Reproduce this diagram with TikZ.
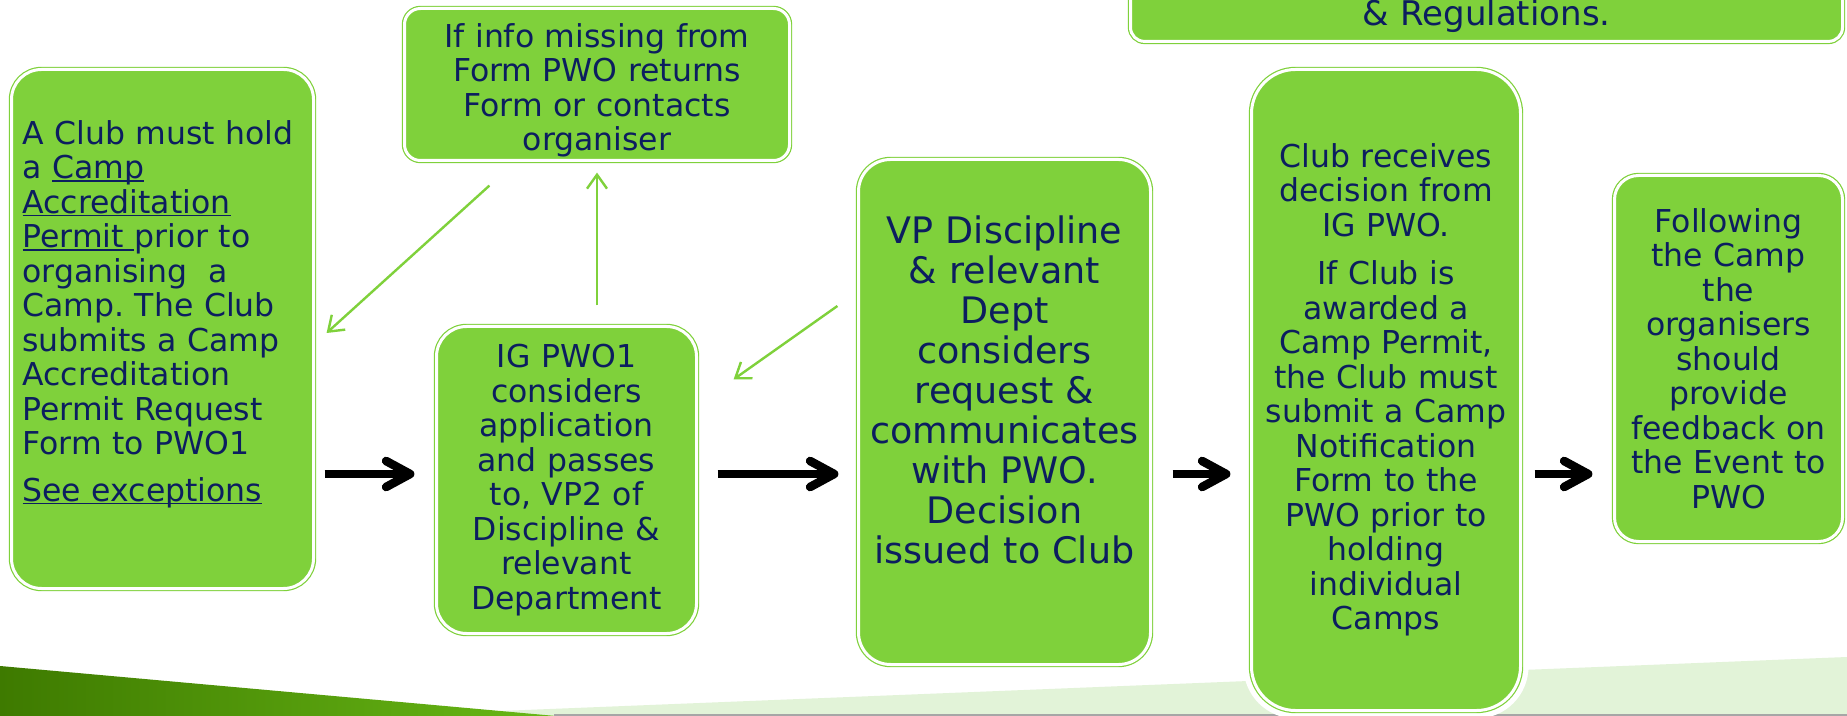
\documentclass[tikz,border=0pt]{standalone}
\usepackage{fontspec}
\setmainfont{DejaVu Sans}
\usetikzlibrary{arrows.meta}
\definecolor{boxgreen}{RGB}{127,209,59}
\definecolor{navytext}{RGB}{12,30,95}
\definecolor{bandgreen}{RGB}{226,243,216}
\definecolor{darkleaf}{RGB}{62,122,0}
\definecolor{brightleaf}{RGB}{104,184,22}
\newcommand\linkword[1]{\leavevmode\setbox0\hbox{#1}\rlap{\rule[-1.6pt]{\wd0}{0.9pt}}\box0}
\frenchspacing

\begin{document}
\begin{tikzpicture}[x=0.5pt, y=-0.5pt,
                    every node/.style={font=\fontsize{15.75}{17.25}\selectfont, text=navytext},
                    main node/.style={draw=boxgreen, double=white, double distance=1.5pt, line width=0.6pt,
                      fill=boxgreen, rounded corners=15pt, align=center, inner sep=0pt,
                      preaction={draw=white, line width=8pt}},
                    big arrow/.style={-{Straight Barb[round, length=12pt, width=13pt]}, line width=4.3pt, black},
                    thin arrow/.style={-{Straight Barb[length=7pt, width=10pt]}, line width=1.2pt, boxgreen}]

  \useasboundingbox (0,0) rectangle (1847,716);
  \fill[white] (0,0) rectangle (1847,716);
  \fill[bandgreen] (500,711) -- (1847,657) -- (1847,716) -- (500,716) -- cycle;
  \shade[left color=darkleaf, right color=brightleaf] (0,666) -- (556,716) -- (0,716) -- cycle;
  \draw[gray!70, line width=1pt] (554,715) -- (1847,715);

  \node[main node, text width=140pt, align=left, minimum width=151pt, minimum height=259.5pt] (1) at (162.5,329)
    {A Club must hold\\ a \linkword{Camp}\\ \linkword{Accreditation}\\ \linkword{Permit\ }prior to\\ organising\ \ a\\
     Camp. The Club\\ submits a Camp\\ Accreditation\\ Permit Request\\ Form to PWO1\\[6pt] \linkword{See exceptions}\par\kern15pt};
  \node[main node, text width=115pt, minimum width=130pt, minimum height=153.5pt] (2) at (566.5,480)
    {IG PWO1\\ considers\\ application\\ and passes\\ to, VP2 of\\ Discipline \&\\ relevant\\ Department};
  \node[main node, rounded corners=16pt, font=\fontsize{18.25}{20}\selectfont, text width=142pt,
        minimum width=146pt, minimum height=252.5pt] (3) at (1004.5,412)
    {VP Discipline\\ \& relevant\\ Dept\\ considers\\ request \&\\ communicates\\ with PWO.\\ Decision\\ issued to Club\par\kern22pt};
  \node[main node, rounded corners=22pt, text width=128pt, minimum width=134.5pt, minimum height=320.5pt] (4) at (1386,390)
    {Club receives\\ decision from\\ IG PWO.\\[7pt] If Club is\\ awarded a\\ Camp Permit,\\ the Club must\\ submit a Camp\\
     Notification\\ Form to the\\ PWO prior to\\ holding\\ individual\\ Camps};
  \node[main node, rounded corners=12pt, text width=108pt, minimum width=114pt, minimum height=183pt] (5) at (1728.5,358.5)
    {Following\\ the Camp\\ the\\ organisers\\ should\\ provide\\ feedback on\\ the Event to\\ PWO};
  \node[main node, rounded corners=8pt, text width=180pt, minimum width=192.5pt, minimum height=76pt] (6) at (597,84.5)
    {If info missing from\\ Form PWO returns\\ Form or contacts\\ organiser\par\kern-6pt};
  \node[main node, rounded corners=7pt, anchor=south, font=\fontsize{17}{19}\selectfont, text width=340pt,
        minimum width=356pt, inner ysep=4.5pt] (7) at (1486.5,42) {\mbox{}\\ \& Regulations.};

  % steps
  \coordinate (row) at (0,474);
  \path (1.east |- row) edge[big arrow, shorten <=5.25pt, shorten >=10.75pt] (2.west |- row);
  \path (2.east |- row) edge[big arrow, shorten <=10.25pt, shorten >=9.75pt] (3.west |- row);
  \path (3.east |- row) edge[big arrow, shorten <=10.75pt, shorten >=10.25pt] (4.west |- row);
  \path (4.east |- row) edge[big arrow, shorten <=6.75pt, shorten >=10.75pt] (5.west |- row);

  % feedback
  \path ([shift={(85.5,24.5)}]6.south west) edge[thin arrow] ([shift={(12.5,4)}]1.east);
  \path ([shift={(30.5,-20.5)}]2.north) edge[thin arrow] ([shift={(0,11.5)}]6.south);
  \path ([shift={(-20.5,-106)}]3.west) edge[thin arrow] ([shift={(36.5,53.5)}]2.north east);

\end{tikzpicture}
\end{document}
